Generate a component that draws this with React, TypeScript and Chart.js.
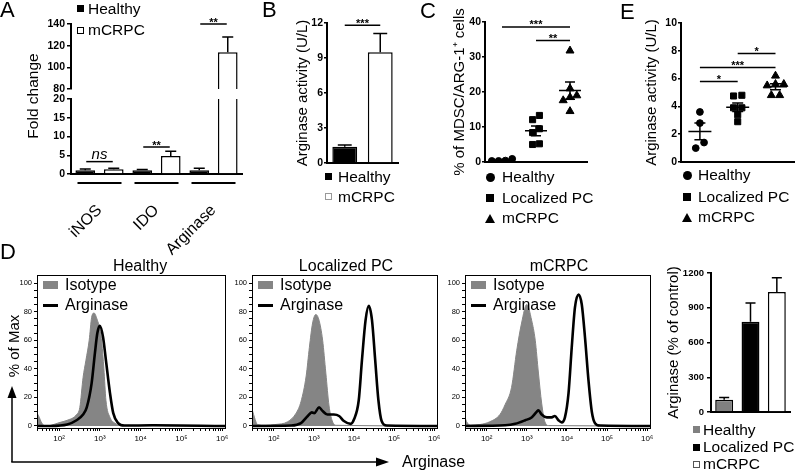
import React, { useEffect, useRef } from 'react';
import { Chart, registerables } from 'chart.js';

Chart.register(...registerables);

const FONT = '"Liberation Sans", Arial, Helvetica, sans-serif';
Chart.defaults.font.family = FONT;
Chart.defaults.color = '#000';

// ---------------- DATA ----------------
// Panel A: fold change (broken axis)
const aCategories = ['iNOS', 'IDO', 'Arginase'];
const aHealthy = [1.0, 1.0, 1.0];
const aHealthySem = [0.35, 0.2, 0.55];
const aMcrpc = [1.25, 4.8, 114];
const aMcrpcSem = [0.3, 1.3, 14];
const aUpperTicks = [80, 100, 120, 140];
const aLowerTicks = [0, 5, 10, 15, 20];
const aSig = [
  { from: 0, to: 0, y: 3.3, label: 'ns' },
  { from: 1, to: 1, y: 7.2, label: '**' },
  { from: 2, to: 2, y: 140, label: '**' },
];

// Panel B: arginase activity
const bGroups = ['Healthy', 'mCRPC'];
const bValues = [1.4, 9.5];
const bSem = [0.15, 1.6];
const bTicks = [0, 3, 6, 9, 12];
const bSig = [{ from: 0, to: 1, y: 11.8, label: '***' }];

// Panel C: % of MDSC/ARG-1+ cells
const cHealthy = [0.3, 0.3, 0.4, 0.9];
const cLocalized = [13.3, 12.1, 9.5, 8.4, 5.0, 5.2];
const cMcrpc = [31.8, 21.0, 19.0, 18.5, 17.6, 14.5];
const cTicks = [0, 10, 20, 30, 40];
const cSig = [
  { from: 0, to: 2, y: 38.6, label: '***' },
  { from: 1, to: 2, y: 34.7, label: '**' },
];

// Panel E: arginase activity
const eHealthy = [3.6, 2.8, 1.4, 1.0];
const eLocalized = [4.75, 4.8, 3.9, 3.9, 3.4, 2.9];
const eMcrpc = [6.2, 5.6, 5.6, 5.5, 4.8, 4.8];
const eTicks = [0, 2, 4, 6, 8, 10];
const eSig = [
  { from: 0, to: 1, y: 5.8, label: '*' },
  { from: 0, to: 2, y: 6.8, label: '***' },
  { from: 1, to: 2, y: 7.8, label: '*' },
];

// Panel D: flow histograms, [log10 intensity, % of max]
const dHealthyIsotype = [[1.46, 9], [1.5, 7], [1.58, 2], [1.66, 0], [1.8, 0.5], [2.0, 2.3], [2.2, 4], [2.43, 8], [2.51, 13], [2.59, 34], [2.66, 46], [2.74, 60], [2.8, 76], [2.86, 79], [2.94, 74], [3.0, 68], [3.05, 58], [3.1, 40], [3.15, 18], [3.25, 6], [3.37, 2], [3.5, 0.4], [4.0, 0.3], [4.35, 1], [4.6, 0.2], [6.07, 0]];
const dHealthyArginase = [[1.46, 0], [1.8, 0], [2.2, 1], [2.43, 4], [2.59, 8], [2.68, 13], [2.8, 30], [2.88, 51], [2.94, 65], [3.0, 70], [3.08, 62], [3.15, 46], [3.25, 23], [3.33, 9], [3.45, 2], [3.6, 0.3], [4.3, 0.5], [6.07, 0]];
const dLocalIsotype = [[1.46, 12], [1.5, 8], [1.6, 1], [1.8, 0.5], [2.03, 1], [2.35, 3], [2.56, 9], [2.68, 17], [2.81, 35], [2.89, 55], [2.97, 72], [3.05, 78], [3.13, 74], [3.22, 60], [3.3, 37], [3.38, 14], [3.46, 3.5], [3.56, 0.5], [6.07, 0]];
const dLocalArginase = [[1.46, 0], [2.44, 0.3], [2.68, 2], [2.85, 7], [2.95, 9.5], [3.01, 9], [3.13, 13], [3.22, 10.5], [3.34, 8], [3.5, 8], [3.63, 7], [3.75, 3.5], [3.92, 1.5], [4.0, 4.5], [4.12, 18], [4.2, 46], [4.29, 74], [4.37, 84], [4.45, 74], [4.53, 46], [4.61, 18], [4.69, 3.5], [4.82, 0.3], [6.07, 0]];
const dMcrpcIsotype = [[1.46, 6], [1.5, 3], [1.6, 0.5], [1.83, 1], [2.08, 3], [2.33, 8], [2.46, 15], [2.62, 27], [2.75, 53], [2.87, 72], [3.0, 85], [3.12, 74], [3.21, 60], [3.29, 37], [3.37, 16], [3.45, 3], [3.55, 0.3], [6.07, 0]];
const dMcrpcArginase = [[1.46, 0], [2.46, 0.5], [2.71, 1.5], [2.96, 4], [3.12, 6], [3.25, 10], [3.29, 11], [3.37, 8], [3.5, 6], [3.62, 6], [3.7, 7], [3.79, 4], [3.87, 2.5], [3.95, 6], [4.04, 23], [4.12, 55], [4.2, 83], [4.29, 92], [4.37, 85], [4.45, 62], [4.54, 31], [4.62, 10], [4.7, 2], [4.83, 0.3], [6.07, 0]];
const histDecades = [2, 3, 4, 5, 6];
const histYTicks = [0, 20, 40, 60, 80, 100];

// Panel D: arginase % of control
const dGroups = ['Healthy', 'Localized PC', 'mCRPC'];
const dValues = [105, 780, 1035];
const dSem = [21, 160, 125];
const dTicks = [0, 300, 600, 900, 1200];

// ---------------- HELPERS ----------------
const mean = (v: number[]) => v.reduce((a, b) => a + b, 0) / v.length;
const semOf = (v: number[]) => {
  const m = mean(v);
  return Math.sqrt(v.reduce((a, b) => a + (b - m) ** 2, 0) / (v.length - 1)) / Math.sqrt(v.length);
};
const SUP: Record<number, string> = { 2: '\u00B2', 3: '\u00B3', 4: '\u2074', 5: '\u2075', 6: '\u2076' };

// spread overlapping points horizontally (symmetric rows)
function swarm(values: number[], group: number, thr: number, step: number) {
  const idx = values.map((_, i) => i).sort((a, b) => values[a] - values[b]);
  const clusters: number[][] = [];
  let cur: number[] = [];
  idx.forEach((i, k) => {
    if (k > 0 && values[i] - values[idx[k - 1]] >= thr) { clusters.push(cur); cur = []; }
    cur.push(i);
  });
  if (cur.length) clusters.push(cur);
  const offs = new Array(values.length).fill(0);
  clusters.forEach((c) => c.forEach((i, j) => { offs[i] = (j - (c.length - 1) / 2) * step; }));
  return values.map((v, i) => ({ x: group + offs[i], y: v }));
}

const errorBarPlugin = {
  id: 'errorBars',
  afterDatasetsDraw(chart: any) {
    const { ctx, chartArea } = chart;
    const ys = chart.scales.y;
    ctx.save();
    ctx.beginPath();
    ctx.rect(chartArea.left, chartArea.top - 1, chartArea.right - chartArea.left, chartArea.bottom - chartArea.top + 1);
    ctx.clip();
    ctx.strokeStyle = '#000';
    ctx.lineWidth = 1.5;
    chart.data.datasets.forEach((ds: any, di: number) => {
      const errs = ds.errors;
      if (!errs) return;
      const meta = chart.getDatasetMeta(di);
      meta.data.forEach((el: any, i: number) => {
        const v = ds.data[i];
        const x = el.x;
        const y0 = ys.getPixelForValue(v);
        const y1 = ys.getPixelForValue(v + errs[i]);
        const cap = el.width * 0.28;
        ctx.beginPath();
        ctx.moveTo(x, y0); ctx.lineTo(x, y1);
        ctx.moveTo(x - cap, y1); ctx.lineTo(x + cap, y1);
        ctx.stroke();
      });
    });
    ctx.restore();
  },
};

const sigPlugin = {
  id: 'sig',
  afterDatasetsDraw(chart: any, _a: any, opts: any) {
    const items = (opts && opts.items) || [];
    const { ctx } = chart;
    const ys = chart.scales.y;
    const xs = chart.scales.x;
    ctx.save();
    items.forEach((it: any) => {
      if (it.y < ys.min - 1e-9 || it.y > ys.max + 1e-9) return;
      let x1: number, x2: number;
      if (opts.mode === 'pair') {
        x1 = chart.getDatasetMeta(0).data[it.from].x;
        x2 = chart.getDatasetMeta(1).data[it.to].x;
      } else if (opts.mode === 'bars') {
        const d = chart.getDatasetMeta(0).data;
        x1 = d[it.from].x; x2 = d[it.to].x;
      } else {
        x1 = xs.getPixelForValue(it.from); x2 = xs.getPixelForValue(it.to);
      }
      const inset = opts.inset || 0;
      x1 += inset; x2 -= inset;
      const y = ys.getPixelForValue(it.y);
      ctx.strokeStyle = '#000';
      ctx.lineWidth = 1.5;
      ctx.beginPath(); ctx.moveTo(x1, y); ctx.lineTo(x2, y); ctx.stroke();
      ctx.fillStyle = '#000';
      ctx.textAlign = 'center';
      ctx.textBaseline = 'alphabetic';
      if (it.label === 'ns') {
        ctx.font = `italic 15px ${FONT}`;
        ctx.fillText(it.label, (x1 + x2) / 2, y - 3);
      } else {
        ctx.font = `bold 11px ${FONT}`;
        ctx.fillText(it.label, (x1 + x2) / 2, y + 1.5);
      }
    });
    ctx.restore();
  },
};

const meanSemPlugin = {
  id: 'meanSem',
  afterDatasetsDraw(chart: any, _a: any, opts: any) {
    const { ctx } = chart;
    const xs = chart.scales.x;
    const ys = chart.scales.y;
    ctx.save();
    ctx.strokeStyle = '#000';
    ctx.lineWidth = 1.5;
    chart.data.datasets.forEach((ds: any) => {
      const v = ds.values;
      const m = mean(v);
      const s = semOf(v);
      const x = xs.getPixelForValue(ds.groupIndex);
      const ym = ys.getPixelForValue(m);
      const yt = ys.getPixelForValue(m + s);
      const yb = ys.getPixelForValue(m - s);
      ctx.beginPath();
      ctx.moveTo(x - opts.meanHalf, ym); ctx.lineTo(x + opts.meanHalf, ym);
      ctx.moveTo(x, yt); ctx.lineTo(x, yb);
      ctx.moveTo(x - opts.capHalf, yt); ctx.lineTo(x + opts.capHalf, yt);
      ctx.moveTo(x - opts.capHalf, yb); ctx.lineTo(x + opts.capHalf, yb);
      ctx.stroke();
    });
    ctx.restore();
  },
};

const underlinePlugin = {
  id: 'underline',
  afterDraw(chart: any, _a: any, opts: any) {
    const { ctx, chartArea } = chart;
    const xs = chart.scales.x;
    const y = chartArea.bottom + opts.offset;
    ctx.save();
    ctx.strokeStyle = '#000';
    ctx.lineWidth = 2;
    chart.data.labels.forEach((_: any, i: number) => {
      const c = xs.getPixelForValue(i);
      ctx.beginPath(); ctx.moveTo(c - opts.half, y); ctx.lineTo(c + opts.half, y); ctx.stroke();
    });
    ctx.restore();
  },
};

const framePlugin = {
  id: 'frame',
  afterDatasetsDraw(chart: any) {
    const { ctx, chartArea } = chart;
    ctx.save();
    ctx.strokeStyle = '#000';
    ctx.lineWidth = 1;
    ctx.strokeRect(Math.round(chartArea.left) + 0.5, Math.round(chartArea.top) + 0.5,
      Math.round(chartArea.right - chartArea.left), Math.round(chartArea.bottom - chartArea.top));
    ctx.restore();
  },
};

function yAxis(cfg: any) {
  return {
    type: 'linear',
    min: cfg.min,
    max: cfg.max,
    afterBuildTicks: (s: any) => { s.ticks = cfg.ticks.map((v: number) => ({ value: v })); },
    afterFit: (s: any) => { s.width = cfg.width; s.paddingTop = 0; s.paddingBottom = 0; },
    ticks: {
      autoSkip: false,
      color: '#000',
      padding: cfg.padding ?? 2,
      font: { size: cfg.fontSize ?? 10.5, weight: cfg.bold === false ? 'normal' : 'bold' },
      callback: (v: any) => String(v),
    },
    grid: { display: true, drawOnChartArea: false, drawTicks: true, tickLength: cfg.tickLength ?? 4, color: '#000', lineWidth: cfg.tickWidth ?? 1.5 },
    border: { display: true, color: '#000', width: cfg.border ?? 2 },
    title: cfg.title
      ? { display: true, text: cfg.title, color: '#000', font: { size: 15 }, padding: 0 }
      : { display: false },
  };
}

function plainX(type: string, extra: any = {}) {
  return {
    type,
    grid: { display: false, drawTicks: false },
    border: { display: true, color: '#000', width: 2 },
    ticks: { display: false },
    afterFit: (s: any) => { s.height = 0; s.paddingLeft = 0; s.paddingRight = 0; },
    ...extra,
  };
}

const baseOpts = (padding: any) => ({
  responsive: false,
  animation: false,
  devicePixelRatio: 1,
  events: [],
  layout: { padding },
});

const noLegend = { legend: { display: false }, tooltip: { enabled: false } };

// ---------------- CHART CONFIGS ----------------
function aDatasets() {
  return [
    { label: 'Healthy', data: aHealthy, errors: aHealthySem, backgroundColor: '#000', borderColor: '#000', borderWidth: 1.5, borderSkipped: 'start', categoryPercentage: 1, barPercentage: 0.69, clip: 0 },
    { label: 'mCRPC', data: aMcrpc, errors: aMcrpcSem, backgroundColor: '#fff', borderColor: '#000', borderWidth: 1.5, borderSkipped: 'start', categoryPercentage: 1, barPercentage: 0.69, clip: 0 },
  ];
}

const aUpperConfig = () => ({
  type: 'bar',
  data: { labels: aCategories, datasets: aDatasets() },
  options: {
    ...baseOpts({ left: 0, top: 24, right: 8, bottom: 11 }),
    scales: {
      x: { type: 'category', display: false },
      y: yAxis({ min: 80, max: 140, ticks: aUpperTicks, width: 71 }),
    },
    plugins: { ...noLegend, sig: { items: aSig, mode: 'pair', inset: 1 } },
  },
  plugins: [errorBarPlugin, sigPlugin],
});

const aLowerConfig = () => ({
  type: 'bar',
  data: { labels: aCategories, datasets: aDatasets() },
  options: {
    ...baseOpts({ left: 0, top: 9, right: 8, bottom: 0 }),
    scales: {
      x: {
        type: 'category',
        grid: { display: false, drawTicks: false },
        border: { display: true, color: '#000', width: 2 },
        ticks: { display: true, minRotation: 45, maxRotation: 45, autoSkip: false, padding: 27, color: '#000', font: { size: 16 } },
        afterFit: (s: any) => { s.height = 86; s.paddingLeft = 0; s.paddingRight = 0; },
      },
      y: yAxis({ min: 0, max: 20, ticks: aLowerTicks, width: 71 }),
    },
    plugins: { ...noLegend, sig: { items: aSig, mode: 'pair', inset: 1 }, underline: { offset: 9, half: 22 } },
  },
  plugins: [errorBarPlugin, sigPlugin, underlinePlugin],
});

const bConfig = () => ({
  type: 'bar',
  data: {
    labels: bGroups,
    datasets: [{ label: 'Arginase activity', data: bValues, errors: bSem, backgroundColor: ['#000', '#fff'], borderColor: '#000', borderWidth: 1.5, borderSkipped: 'start', categoryPercentage: 1, barPercentage: 0.7, clip: 0 }],
  },
  options: {
    ...baseOpts({ left: 32, top: 23, right: 7, bottom: 12 }),
    scales: {
      x: plainX('category'),
      y: yAxis({ min: 0, max: 12, ticks: bTicks, width: 33, title: 'Arginase activity (U/L)', tickLength: 3, padding: 1 }),
    },
    plugins: { ...noLegend, sig: { items: bSig, mode: 'bars', inset: 0 } },
  },
  plugins: [errorBarPlugin, sigPlugin],
});

function scatterDatasets(groups: number[][], thr: number, step: number) {
  const styles = [
    { label: 'Healthy', pointStyle: 'circle', pointRadius: 3.4 },
    { label: 'Localized PC', pointStyle: 'rect', pointRadius: 4.3 },
    { label: 'mCRPC', pointStyle: 'triangle', pointRadius: 4.6 },
  ];
  return groups.map((vals, g) => ({
    ...styles[g],
    data: swarm(vals, g, thr, step),
    values: vals,
    groupIndex: g,
    backgroundColor: '#000',
    borderColor: '#000',
    borderWidth: 1,
  }));
}

const cConfig = () => ({
  type: 'scatter',
  data: { datasets: scatterDatasets([cHealthy, cLocalized, cMcrpc], 1.86, 0.2) },
  options: {
    ...baseOpts({ left: 31, top: 22, right: 8, bottom: 13 }),
    scales: {
      x: plainX('linear', { min: -0.5, max: 2.5 }),
      y: yAxis({ min: 0, max: 40, ticks: cTicks, width: 34, title: '% of MDSC/ARG-1\u207A cells', tickLength: 3, padding: 1 }),
    },
    plugins: { ...noLegend, sig: { items: cSig, mode: 'scale' }, meanSem: { meanHalf: 11, capHalf: 5 } },
  },
  plugins: [meanSemPlugin, sigPlugin],
});

const eConfig = () => ({
  type: 'scatter',
  data: { datasets: scatterDatasets([eHealthy, eLocalized, eMcrpc], 0.47, 0.22) },
  options: {
    ...baseOpts({ left: 8, top: 23, right: 5, bottom: 13 }),
    scales: {
      x: plainX('linear', { min: -0.5, max: 2.5 }),
      y: yAxis({ min: 0, max: 10, ticks: eTicks, width: 38, title: 'Arginase activity (U/L)', tickLength: 3, padding: 1 }),
    },
    plugins: { ...noLegend, sig: { items: eSig, mode: 'scale' }, meanSem: { meanHalf: 11.5, capHalf: 5.5 } },
  },
  plugins: [meanSemPlugin, sigPlugin],
});

const dBarConfig = () => ({
  type: 'bar',
  data: {
    labels: dGroups,
    datasets: [{ label: 'Arginase (% of control)', data: dValues, errors: dSem, backgroundColor: ['#808080', '#000', '#fff'], borderColor: '#000', borderWidth: 1.5, borderSkipped: 'start', categoryPercentage: 1, barPercentage: 0.68, clip: 0 }],
  },
  options: {
    ...baseOpts({ left: 10, top: 18, right: 10, bottom: 8 }),
    scales: {
      x: plainX('category'),
      y: yAxis({ min: 0, max: 1200, ticks: dTicks, width: 46, title: 'Arginase (% of control)', fontSize: 9.5, tickLength: 4, padding: 3 }),
    },
    plugins: { ...noLegend },
  },
  plugins: [errorBarPlugin],
});

const toXY = (pairs: number[][]) => pairs.map(([x, y]) => ({ x, y }));
const histXTicks = (() => {
  const t: number[] = [];
  for (let n = 1; n <= 6; n++) {
    for (let k = 1; k <= 9; k++) {
      const v = n + Math.log10(k);
      if (v >= 1.46 && v <= 6.07) t.push(k === 1 ? n : v);
    }
  }
  return t;
})();
const histYMinor = (() => { const t: number[] = []; for (let v = 0; v <= 100; v += 5) t.push(v); return t; })();

const histConfig = (isotype: number[][], arginase: number[][]) => () => ({
  type: 'line',
  data: {
    datasets: [
      { label: 'Arginase', data: toXY(arginase), borderColor: '#000', borderWidth: 2.6, pointRadius: 0, fill: false, cubicInterpolationMode: 'monotone', order: 0 },
      { label: 'Isotype', data: toXY(isotype), borderColor: '#858585', backgroundColor: '#858585', borderWidth: 1, pointRadius: 0, fill: 'origin', cubicInterpolationMode: 'monotone', order: 1 },
    ],
  },
  options: {
    ...baseOpts({ left: 0, top: 5, right: 5, bottom: 0 }),
    scales: {
      x: {
        type: 'linear', min: 1.46, max: 6.07,
        afterBuildTicks: (s: any) => { s.ticks = histXTicks.map((v) => ({ value: v })); },
        afterFit: (s: any) => { s.height = 22; s.paddingLeft = 0; s.paddingRight = 0; },
        ticks: { autoSkip: false, minRotation: 0, maxRotation: 0, padding: 3, color: '#000', font: { size: 8 },
          callback: (v: any) => (histDecades.includes(v) ? '10' + SUP[v] : '') },
        grid: { display: true, drawOnChartArea: false, drawTicks: true, tickLength: 3, color: '#000', lineWidth: 1 },
        border: { display: true, color: '#000', width: 1 },
      },
      y: {
        ...yAxis({ min: -1.4, max: 105.6, ticks: histYMinor, width: 32, fontSize: 7.5, bold: false, tickLength: 3, padding: 2, border: 1, tickWidth: 1 }),
        ticks: { autoSkip: false, color: '#000', padding: 2, font: { size: 7.5 },
          callback: (v: any) => (histYTicks.includes(v) ? String(v) : '') },
      },
    },
    plugins: { ...noLegend },
  },
  plugins: [framePlugin],
});

// ---------------- COMPONENTS ----------------
function ChartBox({ left, top, width, height, make }: any) {
  const ref = useRef<HTMLCanvasElement>(null);
  useEffect(() => {
    const chart = new Chart(ref.current as any, make());
    return () => chart.destroy();
  }, []);
  return <canvas ref={ref} width={width} height={height} style={{ position: 'absolute', left, top, width, height }} />;
}

function Txt({ x, y, size = 15.5, center = false, rot = false, children }: any) {
  const style: any = { position: 'absolute', fontSize: size, lineHeight: `${size}px`, fontFamily: FONT, whiteSpace: 'nowrap', color: '#000' };
  style.left = x;
  if (rot) { style.top = y; style.transform = 'translate(-50%,-50%) rotate(-90deg)'; }
  else if (center) { style.top = y - size / 2; style.transform = 'translateX(-50%)'; }
  else { style.top = y - size / 2; }
  return <div style={style}>{children}</div>;
}

function Sq({ x, y, size = 7, fill = '#000', stroke }: any) {
  return <div style={{ position: 'absolute', left: x - size / 2, top: y - size / 2, width: size, height: size, background: fill, border: stroke ? `1px solid ${stroke}` : 'none', boxSizing: 'border-box' }} />;
}
function Dot({ x, y, d = 9 }: any) {
  return <div style={{ position: 'absolute', left: x - d / 2, top: y - d / 2, width: d, height: d, borderRadius: '50%', background: '#000' }} />;
}
function Tri({ x, y, w = 10, h = 9 }: any) {
  return <div style={{ position: 'absolute', left: x - w / 2, top: y - h / 2, width: 0, height: 0, borderLeft: `${w / 2}px solid transparent`, borderRight: `${w / 2}px solid transparent`, borderBottom: `${h}px solid #000` }} />;
}

export default function App() {
  const histOffsets = [0, 215, 428];
  return (
    <div style={{ position: 'fixed', left: 0, top: 0, width: 800, height: 472, background: '#fff', overflow: 'hidden', fontFamily: FONT }}>
      <svg style={{ position: 'absolute', left: 0, top: 0 }} width={800} height={472}>
        <line x1={12} y1={462} x2={12} y2={396} stroke="#000" strokeWidth={1.5} />
        <polygon points="12,386 7.5,398 16.5,398" fill="#000" />
        <line x1={11.25} y1={462} x2={378} y2={462} stroke="#000" strokeWidth={1.5} />
        <polygon points="389,462 376,457.5 376,466.5" fill="#000" />
      </svg>

      <ChartBox left={0} top={0} width={250} height={100} make={aUpperConfig} />
      <ChartBox left={0} top={90} width={250} height={170} make={aLowerConfig} />
      <ChartBox left={262} top={0} width={143} height={175} make={bConfig} />
      <ChartBox left={420} top={0} width={175} height={175} make={cConfig} />
      <ChartBox left={635} top={0} width={165} height={175} make={eConfig} />
      <ChartBox left={5} top={270} width={225} height={180} make={histConfig(dHealthyIsotype, dHealthyArginase)} />
      <ChartBox left={220} top={270} width={222} height={180} make={histConfig(dLocalIsotype, dLocalArginase)} />
      <ChartBox left={433} top={270} width={222} height={180} make={histConfig(dMcrpcIsotype, dMcrpcArginase)} />
      <ChartBox left={655} top={255} width={145} height={165} make={dBarConfig} />

      {/* panel letters */}
      <Txt x={0} y={10} size={22}>A</Txt>
      <Txt x={262} y={10} size={22}>B</Txt>
      <Txt x={420} y={11} size={22}>C</Txt>
      <Txt x={620} y={12} size={22}>E</Txt>
      <Txt x={0} y={252} size={22}>D</Txt>

      {/* panel A */}
      <Txt x={33} y={96} rot>Fold change</Txt>
      <Sq x={80.5} y={8.5} />
      <Txt x={88} y={9}>Healthy</Txt>
      <Sq x={80.5} y={30.5} fill="#fff" stroke="#000" />
      <Txt x={88} y={30}>mCRPC</Txt>

      {/* panel B legend */}
      <Sq x={328.5} y={176.5} />
      <Txt x={338} y={177}>Healthy</Txt>
      <Sq x={328.5} y={196.5} fill="#fff" stroke="#999" />
      <Txt x={338} y={197}>mCRPC</Txt>

      {/* panel C legend */}
      <Dot x={490} y={177} />
      <Txt x={502} y={177}>Healthy</Txt>
      <Sq x={490} y={198} size={8} />
      <Txt x={502} y={198}>Localized PC</Txt>
      <Tri x={490} y={218} />
      <Txt x={502} y={218}>mCRPC</Txt>

      {/* panel E legend */}
      <Dot x={687} y={175} />
      <Txt x={698} y={175}>Healthy</Txt>
      <Sq x={687} y={197} size={8} />
      <Txt x={698} y={197}>Localized PC</Txt>
      <Tri x={687} y={217} />
      <Txt x={698} y={217}>mCRPC</Txt>

      {/* panel D histograms */}
      <Txt x={140} y={266} size={16} center>Healthy</Txt>
      <Txt x={346} y={266} size={16} center>Localized PC</Txt>
      <Txt x={559} y={266} size={16} center>mCRPC</Txt>
      {histOffsets.map((dx) => (
        <React.Fragment key={dx}>
          <div style={{ position: 'absolute', left: 43 + dx, top: 281, width: 15, height: 8, background: '#858585' }} />
          <Txt x={65 + dx} y={285} size={16}>Isotype</Txt>
          <div style={{ position: 'absolute', left: 43 + dx, top: 303.5, width: 15, height: 3, background: '#000' }} />
          <Txt x={65 + dx} y={305} size={16}>Arginase</Txt>
        </React.Fragment>
      ))}
      <Txt x={13} y={346} size={15} rot>% of Max</Txt>
      <Txt x={402} y={462} size={16}>Arginase</Txt>

      {/* panel D bar legend */}
      <Sq x={696.5} y={429.5} fill="#808080" />
      <Txt x={703} y={430}>Healthy</Txt>
      <Sq x={696.5} y={447.5} />
      <Txt x={703} y={447}>Localized PC</Txt>
      <Sq x={696.5} y={464.5} fill="#fff" stroke="#555" />
      <Txt x={703} y={464}>mCRPC</Txt>
    </div>
  );
}
